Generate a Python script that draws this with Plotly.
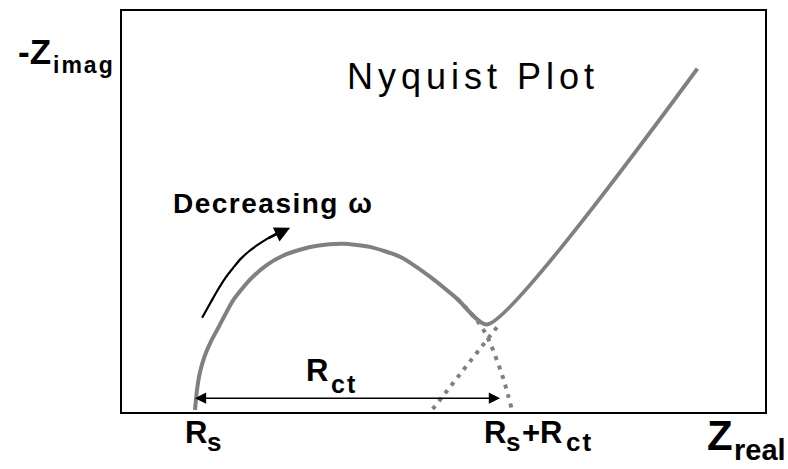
import plotly.graph_objects as go

# Equivalent-circuit parameters (ohm)
R_S = 10.0
R_CT = 40.0

# Impedance response, kinetic (semicircle) region
arc_re = [10, 10.25, 10.63, 11.26, 12.02, 13.03, 14.79, 16.94, 19.09, 21.1, 23.25, 25.39,
          28.68, 32.08, 35.87, 39.65, 43.06, 46.85]
arc_im = [0, 2.52, 4.79, 6.94, 8.71, 10.6, 13.88, 16.53, 18.42, 19.56, 20.32, 20.82,
          21.07, 20.69, 19.43, 16.91, 14.13, 10.85]

# Diffusion (Warburg) tail
tail_re = [46.85, 73.4]
tail_im = [10.85, 43.3]

# Semicircle extrapolated down to the real axis at R_s + R_ct
arc_ext_re = [43.06, 44.7, 46.2, 47.2, 48.1, 48.9, 49.5, 50]
arc_ext_im = [14.13, 12.4, 10.5, 8.6, 6.3, 4.0, 1.9, 0]

# Diffusion line extrapolated to the real axis
tail_ext_re = [48.1, 39.9]
tail_ext_im = [10.5, 0]

# Guide arrow showing the direction of decreasing frequency
guide_re = [10.9, 11.9, 12.8, 13.8, 14.8, 15.8, 16.9, 18.0, 19.1, 20.7, 22.0]
guide_im = [11.7, 13.5, 15.1, 16.7, 18.0, 19.2, 20.2, 21.0, 21.7, 22.6, 23.1]

# R_ct span marker
rct_span_re = [9.8, 48.5]
rct_span_im = 1.5

# Axis extents (ohm)
x_range = [0.79, 81.93]
y_range = [-0.25, 50.6]

CURVE = "rgb(128,128,128)"
FONT = "Liberation Sans, Arial, sans-serif"

fig = go.Figure()

fig.add_trace(go.Scatter(x=arc_ext_re, y=arc_ext_im, mode="lines", line_shape="spline",
                         line=dict(color=CURVE, width=4, dash="4px,6px"), hoverinfo="skip"))
fig.add_trace(go.Scatter(x=tail_ext_re, y=tail_ext_im, mode="lines",
                         line=dict(color=CURVE, width=4, dash="4px,6px"), hoverinfo="skip"))
fig.add_trace(go.Scatter(x=arc_re + tail_re[1:], y=arc_im + tail_im[1:], mode="lines",
                         line_shape="spline", line=dict(color=CURVE, width=4, smoothing=0.6),
                         hoverinfo="skip"))
fig.add_trace(go.Scatter(x=guide_re[:-1], y=guide_im[:-1], mode="lines", line_shape="spline",
                         line=dict(color="black", width=2.2), hoverinfo="skip"))

# arrow head of the frequency guide
fig.add_annotation(x=guide_re[-1], y=guide_im[-1], ax=guide_re[-3], ay=guide_im[-3],
                   xref="x", yref="y", axref="x", ayref="y", text="", showarrow=True,
                   arrowhead=2, arrowsize=1.4, arrowwidth=2.2, arrowcolor="black", standoff=0)

# double arrow spanning R_ct
fig.add_annotation(x=rct_span_re[1], y=rct_span_im, ax=rct_span_re[0], ay=rct_span_im,
                   xref="x", yref="y", axref="x", ayref="y", text="", showarrow=True,
                   arrowside="end+start", arrowhead=2, startarrowhead=2,
                   arrowsize=1.5, startarrowsize=1.5, arrowwidth=1.5, arrowcolor="black",
                   standoff=0, startstandoff=0)

W, H = 788, 469
ML, MR, MT, MB = 122, 23, 9, 57
PW, PH = W - ML - MR, H - MT - MB


def label(text, left, baseline, size, bold=True, spacing=0):
    """Place text by its left edge and baseline, given in page pixels."""
    body = text if spacing == 0 else f'<span style="letter-spacing:{spacing}px">{text}</span>'
    bottom = baseline + 0.212 * size + 1
    fig.add_annotation(x=(left - 1 - ML) / PW, y=(H - MB - bottom) / PH,
                       xref="paper", yref="paper", xanchor="left", yanchor="bottom",
                       text=body, showarrow=False,
                       font=dict(family=FONT, size=size, color="black",
                                 weight="bold" if bold else "normal"))


label("-Z", 17, 63, 35)
label("imag", 52, 72, 23, spacing=2)
label("Nyquist Plot", 346, 89, 36, bold=False, spacing=5)
label("Decreasing ω", 172, 213, 28, spacing=1.5)
label("R", 305, 382, 31)
label("ct", 330, 394, 25, spacing=2)
label("R", 184, 445, 31)
label("s", 206, 453, 26)
label("R", 483, 445, 31)
label("s", 505, 453, 26)
label("+R", 521, 445, 31)
label("ct", 565, 453, 26, spacing=2)
label("Z", 706, 451, 42)
label("real", 733, 461, 29)

fig.update_layout(
    width=W, height=H,
    margin=dict(l=ML, r=MR, t=MT, b=MB, pad=0),
    paper_bgcolor="white", plot_bgcolor="white",
    showlegend=False,
    xaxis=dict(range=x_range, showgrid=False, zeroline=False, showticklabels=False,
               ticks="", showline=True, mirror=True, linecolor="black", linewidth=2),
    yaxis=dict(range=y_range, showgrid=False, zeroline=False, showticklabels=False,
               ticks="", showline=True, mirror=True, linecolor="black", linewidth=2),
)

fig.write_html("out.html")
